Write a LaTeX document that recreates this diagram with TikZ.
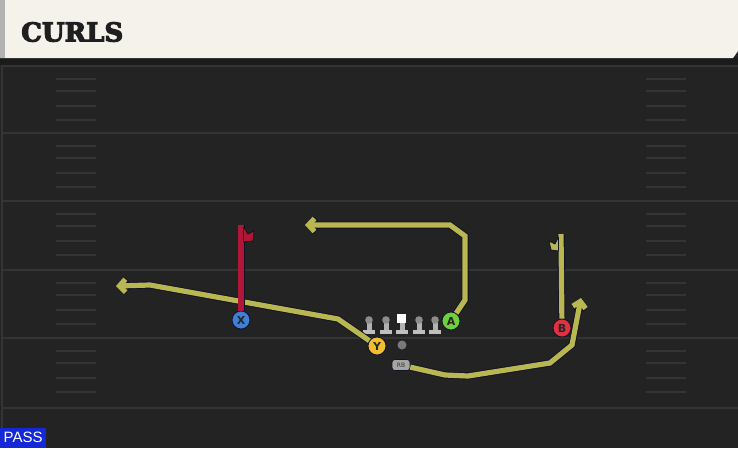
\documentclass[tikz,border=0pt]{standalone}
\usepackage{fontspec}
\setmainfont{DejaVu Sans}
\newfontfamily\titlefont{DejaVu Serif}[BoldFeatures={FakeBold=4}]
\newfontfamily\tagfont{Liberation Sans}
\usetikzlibrary{arrows.meta, positioning, shapes.misc}
\definecolor{fieldbg}{RGB}{35, 35, 35}
\definecolor{yardgray}{RGB}{52, 52, 52}
\definecolor{headcream}{RGB}{245, 242, 235}
\definecolor{headshade}{RGB}{27, 27, 27}
\definecolor{routeyel}{RGB}{184, 183, 82}
\definecolor{routered}{RGB}{176, 22, 56}
\definecolor{routeline}{RGB}{18, 18, 36}
\definecolor{xblue}{RGB}{62, 128, 216}
\definecolor{yyellow}{RGB}{240, 190, 48}
\definecolor{agreen}{RGB}{110, 208, 62}
\definecolor{bred}{RGB}{226, 48, 64}
\definecolor{passblue}{RGB}{20, 40, 215}

\begin{document}
\begin{tikzpicture}[x=1pt, y=-1pt,
  yard/.style={draw=yardgray, line width=2pt},
  hash/.style={draw=yardgray, line width=1.6pt},
  plyr/.style={circle, draw=routeline, line width=0.8pt, minimum size=18pt,
               inner sep=0pt, font=\bfseries\fontsize{11}{11}\selectfont, text=black!85},
  route/.style={draw=routeyel, line width=5.2pt, line join=miter,
                preaction={draw=routeline, line width=7pt}},
  tip/.style={-{Straight Barb[length=6pt, width=13pt]}},
  flag/.style={draw=routeline, line width=0.8pt, line join=round},
]
\useasboundingbox (0,0) rectangle (738,448);
% Field
\fill[fieldbg] (0,0) rectangle (738,448);
\foreach \y in {66,133,201,270,338,408}
  \draw[yard] (2,\y) -- (738,\y);
\draw[yard] (2,60) -- (2,448);
\foreach \y in {66,133,201,270,338}
  \foreach \d in {13,25,40,54} {
    \draw[hash] (56,{\y+\d}) -- (96,{\y+\d});
    \draw[hash] (646,{\y+\d}) -- (686,{\y+\d});
  }

% Header
\fill[headshade] (0,58) rectangle (738,65);
\fill[headcream] (0,0) -- (738,0) -- (738,51) -- (733,58) -- (0,58) -- cycle;
\fill[black!30] (0,0) rectangle (5,58);
\node[anchor=west, font=\titlefont\bfseries\fontsize{26}{26}\selectfont,
      text=black!88, inner sep=0pt] (title) at (21,32) {CURLS};

% Play type
\node[fill=passblue, text=white, font=\tagfont\fontsize{15}{15}\selectfont,
      anchor=south west, inner xsep=2pt, inner ysep=3pt,
      minimum width=46pt, minimum height=20pt] (pass) at (0,448) {PASS};

% Line
\foreach \x in {369,386,419,435} {
  \fill[black!30] (\x-2.5,321) rectangle (\x+2.5,331);
  \fill[black!25] (\x-6,330) rectangle (\x+6,334);
  \fill[black!45] (\x,320) circle (3.8pt);
}
\fill[black!30] (399.5,321) rectangle (404.5,331);
\fill[black!25] (396,330) rectangle (408,334);
\fill[white] (397,314) rectangle (406,323);

% Players
\node[circle, fill=black!52, minimum size=9pt, inner sep=0pt] (QB) at (402,345) {};
\node[rounded corners=3pt, fill=black!35, draw=routeline, line width=0.6pt,
      minimum width=18pt, minimum height=11pt, inner sep=0pt,
      font=\fontsize{6}{6}\selectfont, text=black!80] (RB) at (401,365) {RB};
\node[plyr, fill=xblue] (X) at (241,320) {X};
\node[plyr, fill=yyellow] (Y) at (377,346) {Y};
\node[plyr, fill=agreen] (A) at (451,321) {A};
\node[plyr, fill=bred] (B) at (562,328) {B};

% Routes
\draw[route, tip] (Y) -- (338,319) -- (150,285) -- (116,286);
\draw[route, draw=routered] (X) -- (241,225);
\fill[flag, fill=routered] (243.5,227) -- (248,234) -- (254,231) -- (253,241) -- (243.5,242) -- cycle;
\draw[route, tip] (A) -- (465,300) -- (465,236) -- (450,225) -- (305,225);
\draw[route] (B) -- (561,234);
\fill[flag, fill=routeyel] (558.5,237) -- (555,244) -- (549,241) -- (551,250) -- (558.5,251) -- cycle;
\draw[route, tip] (RB) -- (445,375) -- (468,376) -- (550,363) -- (572,345) -- (581,298);
\end{tikzpicture}
\end{document}
